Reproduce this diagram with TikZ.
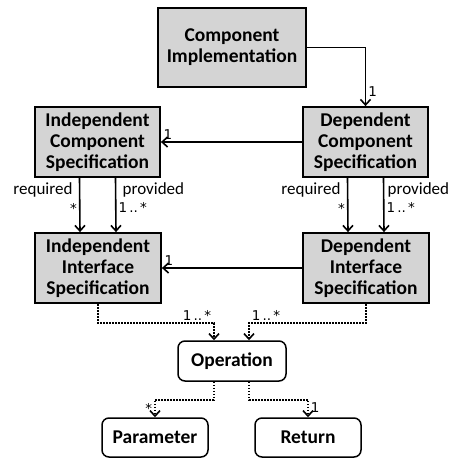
\documentclass[tikz,border=0pt]{standalone}
\usepackage{fontspec}
\setmainfont{Carlito}
\newfontfamily\multfont{DejaVu Sans}
\usetikzlibrary{arrows.meta}

\begin{document}
\begin{tikzpicture}[x=1pt,y=-1pt,>={Straight Barb[length=5.5pt,width=10pt,line width=1.6pt]},
  spec/.style={draw,line width=1.8pt,fill=black!17,minimum width=125pt,minimum height=70pt,align=center,inner sep=2pt,font=\fontsize{19.5}{21}\selectfont\bfseries},
  elem/.style={draw,line width=1.5pt,rounded corners=7pt,minimum width=106pt,minimum height=39pt,font=\fontsize{19.5}{21}\selectfont\bfseries},
  link/.style={line width=1.6pt,->},
  dlink/.style={line width=1.6pt,dash pattern=on 1.6pt off 1.4pt,->},
  role/.style={font=\fontsize{17}{17}\selectfont},
  mult/.style={font=\multfont\fontsize{13.5}{13.5}\selectfont,inner sep=2pt}]

\useasboundingbox (0,0) rectangle (451,458);

\node[spec,minimum width=148pt,minimum height=79pt](impl) at (232,47.5){Component\\Implementation};
\node[spec](ics) at (97.5,142){Independent\\Component\\Specification};
\node[spec](dcs) at (365.5,142){Dependent\\Component\\Specification};
\node[spec,minimum width=126pt](iis) at (98,268){Independent\\Interface\\Specification};
\node[spec,minimum width=126pt](dis) at (366,268){Dependent\\Interface\\Specification};

\node[elem,minimum width=108pt,minimum height=40pt](op) at (232,361){Operation};
\node[elem](par) at (155,437.5){Parameter};
\node[elem](ret) at (308,437.5){Return};


\draw[link](impl.east) -| (dcs.north)node[pos=0.88,right,mult]{1};
\draw[link](dcs) -- (ics)node[pos=1,above right,mult]{1};
\draw[link](dis) -- (iis)node[pos=1,above right,mult]{1};

\draw[link]([xshift=-18pt]ics.south) -- ([xshift=-18pt]iis.north)node[pos=0.22,left=3pt,role]{required}node[pos=0.57,left,mult]{*};
\draw[link]([xshift=18pt]ics.south) -- ([xshift=18pt]iis.north)node[pos=0.22,right=3pt,role]{provided}node[pos=0.55,right,mult]{1\,..\,*};
\draw[link]([xshift=-18pt]dcs.south) -- ([xshift=-18pt]dis.north)node[pos=0.22,left=3pt,role]{required}node[pos=0.57,left,mult]{*};
\draw[link]([xshift=18pt]dcs.south) -- ([xshift=18pt]dis.north)node[pos=0.22,right=0pt,role]{provided}node[pos=0.55,right,mult]{1\,..\,*};

\draw[dlink](iis.south) -- ++(0,19) -| ([xshift=-18pt]op.north)node[pos=0.5,above left,mult]{1\,..\,*};
\draw[dlink](dis.south) -- ++(0,19) -| ([xshift=17pt]op.north)node[pos=0.5,above right,mult]{1\,..\,*};
\draw[dlink]([xshift=-18pt]op.south) -- ++(0,18) -| (par.north)node[pos=0.75,left,mult]{*};
\draw[dlink]([xshift=17pt]op.south) -- ++(0,18) -| (ret.north)node[pos=0.72,right,mult]{1};

\end{tikzpicture}
\end{document}
